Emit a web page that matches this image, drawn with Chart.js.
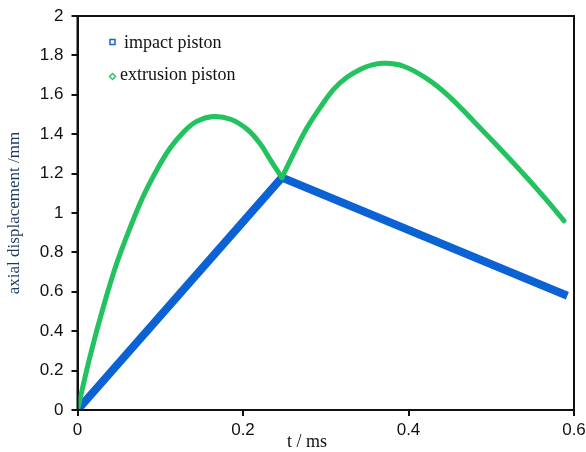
<!DOCTYPE html>
<html>
<head>
<meta charset="utf-8">
<script src="https://cdn.jsdelivr.net/npm/chart.js@4/dist/chart.umd.min.js"></script>
<style>
  html, body { margin: 0; padding: 0; background: #fff; }
  #wrap { width: 586px; height: 452px; }
</style>
</head>
<body>
<div id="wrap"><canvas id="grafico"></canvas></div>
<script>
(function () {
    'use strict';

    // leitura do gráfico: t em ms, deslocamento em mm
    var impactT = [0, 0.247, 0.592];
    var impactD = [0, 1.18, 0.58];

    var extrusionT = [0, 0.015, 0.031, 0.047, 0.064, 0.080, 0.096, 0.112, 0.128, 0.144, 0.164,
                      0.185, 0.205, 0.221, 0.233, 0.247, 0.261, 0.277, 0.294, 0.310, 0.326,
                      0.342, 0.356, 0.370, 0.394, 0.423, 0.447, 0.479, 0.511, 0.544, 0.568, 0.588];
    var extrusionD = [0, 0.27, 0.52, 0.74, 0.93, 1.09, 1.22, 1.33, 1.41, 1.465, 1.49,
                      1.476, 1.425, 1.35, 1.27, 1.18, 1.30, 1.43, 1.54, 1.63, 1.69,
                      1.73, 1.752, 1.76, 1.745, 1.68, 1.60, 1.465, 1.325, 1.175, 1.06, 0.96];
    var cuspIndex = 15; // vale em t = 0.247

    var xTicks = [0, 0.2, 0.4, 0.6];
    var yTicks = [0, 0.2, 0.4, 0.6, 0.8, 1, 1.2, 1.4, 1.6, 1.8, 2];

    var seriesNames = ['impact piston', 'extrusion piston'];
    var xTitle = 't / ms';
    var yTitle = 'axial displacement /mm';

    function pares(xs, ys) {
        return xs.map(function (x, i) { return { x: x, y: ys[i] }; });
    }

    function fmt(v) {
        return String(Number(v.toFixed(1)));
    }

    var moldura = {
        id: 'moldura',
        afterDatasetsDraw: function (chart) {
            var a = chart.chartArea;
            var ctx = chart.ctx;
            ctx.save();
            ctx.strokeStyle = '#111';
            ctx.lineWidth = 2;
            ctx.strokeRect(a.left, a.top, a.right - a.left, a.bottom - a.top);
            ctx.restore();
        }
    };

    var legenda = {
        id: 'legenda',
        afterDraw: function (chart) {
            var ctx = chart.ctx;
            ctx.save();
            // quadrado
            ctx.strokeStyle = '#1565d8';
            ctx.lineWidth = 1.5;
            ctx.strokeRect(110, 39.5, 5, 5);
            // losango
            ctx.strokeStyle = '#2cc46a';
            ctx.beginPath();
            ctx.moveTo(112.5, 73.5);
            ctx.lineTo(115.5, 76.5);
            ctx.lineTo(112.5, 79.5);
            ctx.lineTo(109.5, 76.5);
            ctx.closePath();
            ctx.stroke();

            ctx.fillStyle = '#111';
            ctx.font = '18px "Liberation Serif", serif';
            ctx.textBaseline = 'middle';
            ctx.fillText(seriesNames[0], 124, 43);
            ctx.fillText(seriesNames[1], 120, 75);

            // título do eixo x
            ctx.textAlign = 'center';
            ctx.fillText(xTitle, 307, 442);
            ctx.restore();
        }
    };

    function init() {
        var canvas = document.getElementById('grafico');
        var greenA = pares(extrusionT.slice(0, cuspIndex + 1), extrusionD.slice(0, cuspIndex + 1));
        var greenB = pares(extrusionT.slice(cuspIndex), extrusionD.slice(cuspIndex));
        var verde = {
            showLine: true,
            borderColor: '#22c25f',
            borderWidth: 5,
            pointRadius: 0,
            tension: 0.4,
            borderCapStyle: 'round',
            order: 1
        };

        new Chart(canvas, {
            type: 'scatter',
            data: {
                datasets: [
                    {
                        label: seriesNames[0],
                        data: pares(impactT, impactD),
                        showLine: true,
                        borderColor: '#0b62d4',
                        borderWidth: 8,
                        pointRadius: 0,
                        tension: 0,
                        order: 2
                    },
                    Object.assign({ label: seriesNames[1], data: greenA }, verde),
                    Object.assign({ label: seriesNames[1], data: greenB }, verde)
                ]
            },
            options: {
                responsive: true,
                maintainAspectRatio: false,
                animation: false,
                layout: { padding: { left: 4, top: 16, right: 12, bottom: 0 } },
                plugins: {
                    legend: { display: false },
                    tooltip: { enabled: false }
                },
                scales: {
                    x: {
                        type: 'linear',
                        min: 0,
                        max: 0.6,
                        afterBuildTicks: function (s) {
                            s.ticks = xTicks.map(function (v) { return { value: v }; });
                        },
                        afterFit: function (s) {
                            s.height = 42;
                            s.paddingLeft = 0;
                            s.paddingRight = 0;
                        },
                        grid: {
                            drawOnChartArea: false,
                            tickLength: 6,
                            color: '#111',
                            lineWidth: 2
                        },
                        border: { color: '#111', width: 2 },
                        ticks: {
                            color: '#111',
                            padding: 4,
                            maxRotation: 0,
                            font: { family: '"Liberation Sans", Arial, sans-serif', size: 17 },
                            callback: fmt
                        }
                    },
                    y: {
                        min: 0,
                        max: 2,
                        afterBuildTicks: function (s) {
                            s.ticks = yTicks.map(function (v) { return { value: v }; });
                        },
                        afterFit: function (s) {
                            s.width = 73.5;
                            s.paddingTop = 0;
                            s.paddingBottom = 0;
                        },
                        grid: {
                            drawOnChartArea: false,
                            tickLength: 6,
                            color: '#111',
                            lineWidth: 2
                        },
                        border: { color: '#111', width: 2 },
                        ticks: {
                            color: '#111',
                            padding: 8,
                            font: { family: '"Liberation Sans", Arial, sans-serif', size: 17 },
                            callback: fmt
                        },
                        title: {
                            display: true,
                            text: yTitle,
                            color: '#1c3a5e',
                            padding: 0,
                            font: { family: '"Liberation Serif", serif', size: 17 }
                        }
                    }
                }
            },
            plugins: [moldura, legenda]
        });
    }

    if (document.readyState === 'loading') {
        document.addEventListener('DOMContentLoaded', init);
    } else {
        init();
    }
})();
</script>
</body>
</html>
